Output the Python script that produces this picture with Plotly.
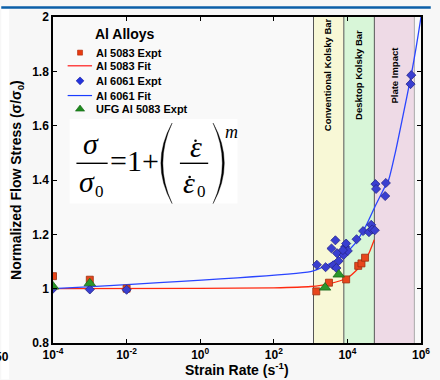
import plotly.graph_objects as go

# ---------------- data ----------------
al5083_rate = [1e-4, 1e-3, 1e-2, 10**3.154, 10**3.499, 10**3.966, 10**4.294, 10**4.382, 10**4.480]
al5083_flow = [1.046, 1.033, 1.000, 0.990, 1.022, 1.034, 1.084, 1.093, 1.114]

al5083_fit_rate = [1e-4, 1e0, 1e2, 1e3, 10**3.5, 1e4, 10**4.3, 10**4.5, 10**4.6, 10**4.73]
al5083_fit_flow = [1.000, 1.001, 1.003, 1.008, 1.018, 1.040, 1.075, 1.110, 1.135, 1.180]

al6061_rate = [1e-4, 1e-3, 1e-2,
               10**3.170, 10**3.408, 10**3.613, 10**3.700, 10**3.764, 10**3.719, 10**3.568,
               10**3.674, 10**3.897, 10**3.939, 10**3.966, 10**4.011, 10**3.878, 10**4.249,
               10**4.427, 10**4.586, 10**4.647, 10**4.674, 10**4.745, 10**4.761, 10**4.780,
               10**5.045, 10**5.027, 10**5.735, 10**5.716]
al6061_flow = [1.000, 0.997, 0.996,
               1.088, 1.079, 1.086, 1.076, 1.102, 1.130, 1.148,
               1.178, 1.124, 1.154, 1.166, 1.139, 1.142, 1.182,
               1.212, 1.208, 1.235, 1.218, 1.215, 1.385, 1.367,
               1.389, 1.341, 1.786, 1.753]

al6061_fit_rate = [1e-4, 1e3, 10**3.3, 10**3.6, 10**3.9, 10**4.2, 10**4.5, 10**4.76,
                   10**5.0, 10**5.12, 10**5.3, 10**5.5, 10**5.735, 10**5.87, 10**6.0, 10**6.05]
al6061_fit_flow = [1.000, 1.063, 1.078, 1.098, 1.125, 1.165, 1.230, 1.305,
                   1.370, 1.400, 1.500, 1.630, 1.787, 1.890, 2.000, 2.050]

ufg_rate = [1e-4, 1e-3, 10**3.393, 10**3.764]
ufg_flow = [1.008, 1.020, 1.004, 1.052]

band_names = ["Conventional Kolsky Bar", "Desktop Kolsky Bar", "Plate Impact"]
band_lo = [1.2e3, 8.0e3, 5.4e4]
band_hi = [8.0e3, 5.4e4, 6.6e5]
band_colors = ["#f8f8d6", "#d8f6d8", "#eedae6"]

x_tickvals = [1e-4, 1e-2, 1e0, 1e2, 1e4, 1e6]
x_ticktext = ["10<sup>-4</sup>", "10<sup>-2</sup>", "10<sup>0</sup>", "10<sup>2</sup>",
              "10<sup>4</sup>", "10<sup>6</sup>"]
y_tickvals = [0.8, 1.0, 1.2, 1.4, 1.6, 1.8, 2.0]
y_ticktext = ["0.8", "1", "1.2", "1.4", "1.6", "1.8", "2"]

legend_labels = ["Al 5083 Expt", "Al 5083 Fit", "Al 6061 Expt", "Al 6061 Fit", "UFG Al 5083 Expt"]

# ---------------- layout geometry ----------------
W, H = 440, 380
L, R, T, B = 53, 10, 11, 37
X0, X1 = L, W - R        # plot area pixel x
Y0, Y1 = T, H - B        # plot area pixel y (top, bottom)

def pxp(x):  # pixel -> paper x
    return (x - X0) / (X1 - X0)

def pyp(y):  # pixel -> paper y
    return (Y1 - y) / (Y1 - Y0)

SANS = "Liberation Sans"
SERIF = "Liberation Serif"

RED = "#e8461c"
RED_LINE = "#ff2a10"
BLUE = "#3a3fd0"
BLUE_LINE = "#2a45ff"
GREEN = "#2a962a"

fig = go.Figure()

fig.add_trace(go.Scatter(x=al5083_fit_rate, y=al5083_fit_flow, mode="lines",
                         line=dict(color=RED_LINE, width=1.3, shape="spline", smoothing=0.6),
                         showlegend=False))
fig.add_trace(go.Scatter(x=al6061_fit_rate, y=al6061_fit_flow, mode="lines",
                         line=dict(color=BLUE_LINE, width=1.3, shape="spline", smoothing=0.6),
                         showlegend=False))
fig.add_trace(go.Scatter(x=al5083_rate, y=al5083_flow, mode="markers",
                         marker=dict(symbol="square", size=7, color=RED,
                                     line=dict(color="#9a3010", width=0.8)),
                         showlegend=False))
fig.add_trace(go.Scatter(x=al6061_rate, y=al6061_flow, mode="markers",
                         marker=dict(symbol="diamond", size=7, color=BLUE,
                                     line=dict(color="#24248a", width=0.8)),
                         showlegend=False))
fig.add_trace(go.Scatter(x=ufg_rate, y=ufg_flow, mode="markers",
                         marker=dict(symbol="triangle-up", size=10, color=GREEN,
                                     line=dict(color="#1a6a1a", width=0.8)),
                         showlegend=False))

# legend markers on a pixel overlay axis
leg_x = 80.7
fig.add_trace(go.Scatter(x=[leg_x], y=[47.3], xaxis="x2", yaxis="y2", mode="markers",
                         marker=dict(symbol="square", size=5, color="#e83a10",
                                     line=dict(color="#b02a08", width=0.6)),
                         showlegend=False, hoverinfo="skip"))
fig.add_trace(go.Scatter(x=[leg_x], y=[76], xaxis="x2", yaxis="y2", mode="markers",
                         marker=dict(symbol="diamond", size=6, color="#2233dd",
                                     line=dict(color="#1a1a99", width=0.6)),
                         showlegend=False, hoverinfo="skip"))
fig.add_trace(go.Scatter(x=[leg_x], y=[104.8], xaxis="x2", yaxis="y2", mode="markers",
                         marker=dict(symbol="triangle-up", size=8, color="#1e8a1e",
                                     line=dict(color="#146414", width=0.6)),
                         showlegend=False, hoverinfo="skip"))

shapes = []
# bands
for lo, hi, c in zip(band_lo, band_hi, band_colors):
    shapes.append(dict(type="rect", xref="x", yref="paper", x0=lo, x1=hi, y0=0, y1=1,
                       fillcolor=c, line=dict(width=0), layer="below"))
for i, edge in enumerate([band_lo[0], band_lo[1], band_lo[2], band_hi[2]]):
    col = "#555555" if i < 3 else "#aaaaaa"
    shapes.append(dict(type="line", xref="x", yref="paper", x0=edge, x1=edge, y0=0, y1=1,
                       line=dict(color=col, width=1), layer="below"))

# equation white box
shapes.append(dict(type="rect", xref="x2", yref="y2", x0=70, x1=242, y0=115, y1=201,
                   fillcolor="#ffffff", line=dict(width=0), layer="below"))
# fraction bars
shapes.append(dict(type="line", xref="x2", yref="y2", x0=77, x1=109, y0=160, y1=160,
                   line=dict(color="#000000", width=1.4)))
shapes.append(dict(type="line", xref="x2", yref="y2", x0=183, x1=212, y0=160, y1=160,
                   line=dict(color="#000000", width=1.4)))
# parentheses
shapes.append(dict(type="path", xref="x2", yref="y2",
                   path="M 175,119 Q 152,160 175,201 Q 156,160 175,119 Z",
                   fillcolor="#000000", line=dict(color="#000000", width=0.4)))
shapes.append(dict(type="path", xref="x2", yref="y2",
                   path="M 217,119 Q 240,160 217,201 Q 236,160 217,119 Z",
                   fillcolor="#000000", line=dict(color="#000000", width=0.4)))
# dots over epsilons
for cx, cy in [(199, 137), (193, 174)]:
    shapes.append(dict(type="circle", xref="x2", yref="y2", x0=cx - 1.3, x1=cx + 1.3,
                       y0=cy - 1.3, y1=cy + 1.3, fillcolor="#000000",
                       line=dict(color="#000000", width=0)))
# legend lines
shapes.append(dict(type="line", xref="x2", yref="y2", x0=68, x1=93, y0=60.7, y1=60.7,
                   line=dict(color="#ff1a1a", width=1.2)))
shapes.append(dict(type="line", xref="x2", yref="y2", x0=68, x1=93, y0=91, y1=91,
                   line=dict(color="#1a3cff", width=1.2)))
# page decorations
shapes.append(dict(type="rect", xref="paper", yref="paper", x0=pxp(0), x1=pxp(8),
                   y0=pyp(H), y1=pyp(3), fillcolor="#ffffff", line=dict(width=0), layer="below"))
shapes.append(dict(type="rect", xref="paper", yref="paper", x0=pxp(0), x1=pxp(W),
                   y0=pyp(2.6), y1=pyp(0), fillcolor="#0b5fa8", line=dict(width=0)))

ann = []
def A(text, x, y, size, family=SANS, bold=False, italic=False, xanchor="center",
      yanchor="middle", angle=0, ref="x2", color="#000000"):
    f = dict(family=family, size=size, color=color)
    if bold:
        f["weight"] = "bold"
    if italic:
        f["style"] = "italic"
    if ref == "x2":
        d = dict(xref="x2", yref="y2", x=x, y=y)
    else:
        d = dict(xref="paper", yref="paper", x=pxp(x), y=pyp(y))
    d.update(dict(text=text, showarrow=False, font=f, xanchor=xanchor, yanchor=yanchor,
                  textangle=angle, borderpad=0))
    ann.append(d)

# legend text
A("Al Alloys", 127, 28, 14, bold=True)
for lbl, yy in zip(legend_labels, [47.3, 61, 76, 91, 105]):
    A(lbl, 96, yy, 11, bold=True, xanchor="left")

# equation
A("σ", 92, 140, 30, family=SERIF, italic=True)
A("σ", 88, 179, 30, family=SERIF, italic=True)
A("0", 101, 189, 17, family=SERIF)
A("=1+", 136, 157, 30, family=SERIF)
A("ε", 199, 143, 30, family=SERIF, italic=True)
A("ε", 192, 180, 30, family=SERIF, italic=True)
A("0", 205, 189, 17, family=SERIF)
A("m", 236, 128, 18, family=SERIF, italic=True)

# band labels
band_label_x = [335, 366.5, 403]
for name, bx in zip(band_names, band_label_x):
    A(name, bx, 70, 9.5, bold=True, angle=-90)

# axis titles
A("Normalized Flow Stress (σ/σ<sub>0</sub>)", 16, 177, 14, bold=True, angle=-90, ref="paper")
A("Strain Rate (s<sup>-1</sup>)", 242, 369, 14, bold=True, ref="paper")
A("50", 9, 357, 12, bold=True, xanchor="right", ref="paper")

axis_font = dict(family=SANS, size=12, color="#000000", weight="bold")

fig.update_layout(
    width=W, height=H,
    margin=dict(l=L, r=R, t=T, b=B, pad=0),
    paper_bgcolor="#f7f7f7",
    plot_bgcolor="#f9f9f9",
    showlegend=False,
    shapes=shapes,
    annotations=ann,
    xaxis=dict(type="log", range=[-4, 6], tickvals=x_tickvals, ticktext=x_ticktext,
               ticks="inside", ticklen=4, tickwidth=1.2, tickcolor="#000000",
               showline=True, linecolor="#000000", linewidth=1.5, mirror="ticks",
               showgrid=False, zeroline=False, tickfont=axis_font),
    yaxis=dict(range=[0.8, 2.0], tickvals=y_tickvals, ticktext=y_ticktext,
               ticks="inside", ticklen=4, tickwidth=1.2, tickcolor="#000000",
               showline=True, linecolor="#000000", linewidth=1.5, mirror="ticks",
               showgrid=False, zeroline=False, tickfont=axis_font),
    xaxis2=dict(range=[X0, X1], overlaying="x", anchor="y2", visible=False,
                showgrid=False, zeroline=False),
    yaxis2=dict(range=[Y1, Y0], overlaying="y", anchor="x2", visible=False,
                showgrid=False, zeroline=False),
)

fig.write_html("out.html", config={"displayModeBar": False},
               post_script="document.body.style.margin='0';document.body.style.overflow='hidden';")
